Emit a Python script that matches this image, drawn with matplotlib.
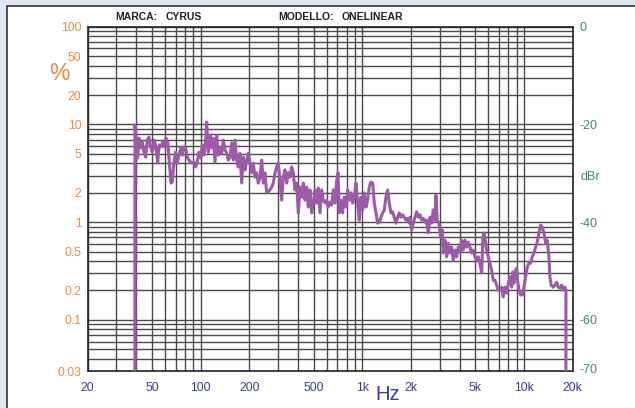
import numpy as np
import matplotlib
matplotlib.use("Agg")
import matplotlib.pyplot as plt
from matplotlib.patches import Rectangle
from matplotlib.ticker import FixedLocator, NullFormatter
from matplotlib.transforms import blended_transform_factory

plt.rcParams['font.family'] = ['Liberation Sans', 'DejaVu Sans']

# ---- data ----
freq_hz = [
    39.2, 39.2, 39.8, 40.7, 41.5, 42.5, 43.5, 44.6, 45.7, 46.7, 47.9, 49.0, 50.2, 51.6, 52.9, 54.2,
    55.4, 56.8, 58.2, 59.5, 61.0, 62.5, 63.9, 65.5, 66.7, 68.3, 70.0, 71.6, 73.4, 75.2, 76.9, 78.8,
    80.7, 82.6, 84.6, 86.7, 88.7, 90.8, 93.1, 95.2, 97.5, 100, 102.3, 104.8, 107.4, 108.9, 111.4,
    114.2, 117.0, 119.7, 122.6, 125.6, 128.5,
    131.6, 134.9, 138.0, 141.3, 144.8, 148.1, 151.8, 155.5, 159.1, 163.0, 167.0, 170.8, 175.0,
    179.3, 183.4, 187.9, 192.5, 197.0, 201.8, 206.7, 211.5, 216.7, 222.0, 227.1, 232.7, 238.4,
    243.9, 249.8, 255.9, 261.9, 268.3, 274.8, 281.2, 288.1, 295.1, 301.9, 309.3, 316.9, 324.2,
    332.2, 340.3, 348.1, 356.7, 365.4, 373.8, 382.9, 392.3, 401.4, 411.2, 421.3, 431.0, 441.6,
    452.4, 462.8, 474.2, 485.8, 497.0,
    509, 522, 534, 547, 560, 573, 587, 602, 615, 631, 646, 661, 677, 694, 707, 720, 737, 755,
    773, 792, 811, 830, 850, 871, 891, 913, 935, 957, 980, 1004, 1027, 1053, 1078, 1103, 1130,
    1158, 1185, 1214, 1243, 1272, 1303, 1335, 1366, 1399, 1434, 1467, 1503, 1539, 1575, 1614,
    1653, 1691, 1733, 1775, 1816, 1861, 1906, 1950,
    1970, 2018, 2064, 2115, 2167, 2217, 2271, 2327, 2380, 2439, 2498, 2556, 2619, 2683, 2744,
    2812, 2852, 2905, 2976, 3049, 3120, 3164, 3242, 3322, 3398, 3481, 3567, 3649, 3738, 3830,
    3918, 4014, 4112, 4207, 4310, 4416, 4517, 4628, 4742, 4851, 4970, 5091, 5209, 5336, 5467,
    5569, 5649, 5755, 5870, 6006, 6153, 6303, 6449, 6607, 6769, 6925,
    7095, 7269, 7436, 7619, 7805, 7985, 8181, 8381, 8502, 8661, 8873, 9000, 9129, 9300, 9527,
    9747, 9986, 10230, 10466, 10723, 10985, 11239, 11514, 11796, 12068, 12364, 12667, 12959,
    13276, 13601, 13914, 14256, 14460, 14730, 15156, 15527, 15907, 16274, 16673, 17081, 17475,
    17903, 18160, 18160,
]
thd_dbr = [
    -75.0, -20.1, -22.2, -26.9, -22.8, -24.8, -23.6, -25.7, -26.7, -23.2, -22.6, -24.6, -25.7,
    -23.2, -24.8, -27.7, -24.2, -24.6, -23.6, -24.6, -22.8, -23.6, -27.7, -32.0, -31.8, -27.7,
    -25.7, -27.9, -26.3, -24.8, -26.3, -24.6, -24.8, -26.7, -27.3, -27.7, -27.9, -27.7, -28.7,
    -27.7, -25.7, -26.9, -24.2, -26.3, -23.2, -19.5, -25.7, -22.2, -24.8, -22.8, -27.7, -22.2,
    -26.3,
    -24.6, -25.9, -23.2, -25.2, -25.9, -27.3, -26.7, -23.8, -27.3, -23.2, -27.3, -28.7, -25.9,
    -32.0, -26.7, -29.3, -27.3, -25.9, -27.9, -29.9, -27.9, -30.8, -29.9, -32.0, -30.8, -27.3,
    -32.0, -29.9, -34.0, -33.8, -33.4, -32.8, -32.0, -29.9, -28.7, -27.9, -31.4, -35.5, -30.8,
    -29.3, -32.0, -29.9, -30.8, -28.7, -29.9, -33.4, -32.0, -38.1, -32.8, -34.9, -32.0, -35.5,
    -32.8, -36.9, -33.4, -38.1, -36.1,
    -33.4, -36.1, -33.0, -38.1, -33.4, -35.5, -36.1, -35.5, -36.9, -35.9, -36.5, -33.4, -36.1,
    -31.4, -29.9, -38.1, -35.5, -38.1, -34.9, -36.9, -33.4, -35.5, -34.0, -36.1, -34.9, -32.0,
    -36.1, -39.6, -34.9, -37.5, -34.0, -36.9, -35.5, -32.8, -31.8, -32.0, -36.1, -38.1, -40.2,
    -40.0, -39.0, -38.1, -37.5, -34.9, -33.4, -36.1, -38.1, -37.9, -39.0, -40.2, -39.0, -38.1,
    -39.0, -38.5, -39.0, -39.6, -39.2, -40.2,
    -39.0, -41.6, -40.2, -39.0, -37.9, -39.0, -38.5, -39.6, -39.2, -40.0, -39.6, -42.2, -39.0,
    -40.2, -37.5, -39.6, -34.5, -39.6, -40.2, -43.1, -41.6, -46.3, -43.7, -47.1, -44.3, -46.3,
    -45.1, -47.8, -45.7, -47.1, -45.1, -46.1, -43.7, -45.7, -43.7, -45.1, -44.1, -45.1, -46.3,
    -45.7, -47.1, -47.8, -47.1, -48.4, -50.4, -43.1, -42.2, -43.7, -45.7, -47.1, -48.4, -49.8,
    -51.9, -51.9, -52.9, -53.9,
    -53.9, -53.3, -55.3, -53.3, -54.5, -52.5, -51.2, -53.3, -50.2, -52.5, -49.8, -49.4, -51.9,
    -53.9, -54.9, -54.9, -53.3, -51.2, -49.2, -48.4, -48.4, -47.1, -46.3, -45.1, -44.1, -42.2,
    -40.6, -41.0, -42.2, -44.3, -43.7, -47.1, -51.2, -52.9, -53.3, -52.9, -52.3, -53.3, -53.5,
    -52.9, -53.9, -53.3, -53.9, -75.0,
]
pct_ticks = [0.03, 0.1, 0.2, 0.5, 1, 2, 5, 10, 20, 50, 100]
pct_labels = ['0.03', '0.1', '0.2', '0.5', '1', '2', '5', '10', '20', '50', '100']
hz_ticks = [20, 50, 100, 200, 500, 1000, 2000, 5000, 10000, 20000]
hz_labels = ['20', '50', '100', '200', '500', '1k', '2k', '5k', '10k', '20k']
db_ticks = [0, -20, -40, -60, -70]
db_labels = ['0', '-20', '-40', '-60', '-70']

# ---- styling ----
W, H = 635, 408
ORANGE = '#f08a3a'
TEAL = '#3d8a78'
BLUE = '#3a3f9e'
PURPLE = '#9d5aa9'
GRID = '#4a4a4a'

fig = plt.figure(figsize=(W / 100, H / 100), dpi=100)
fig.patch.set_facecolor('#dce6f4')

bg = fig.add_axes([0, 0, 1, 1], zorder=-10)
bg.set_xlim(0, W)
bg.set_ylim(H, 0)
bg.axis('off')
bg.add_patch(Rectangle((7.3, 5.5), W + 20, H + 20, facecolor='white',
                       edgecolor='#333333', lw=1.2))

x0, x1, yt, yb = 87.7, 572.7, 26.7, 371.0
ax = fig.add_axes([x0 / W, (H - yb) / H, (x1 - x0) / W, (yb - yt) / H], zorder=1)
ax.set_facecolor('white')
ax.set_xscale('log')
ax.set_yscale('log')
ax.set_xlim(20, 20000)
ax.set_ylim(0.03, 100)

# grid lines
xg = [m * 10 ** e for e in range(1, 5) for m in range(1, 10) if 20 <= m * 10 ** e <= 20000]
yg = [m * 10.0 ** e for e in range(-2, 3) for m in range(1, 10) if 0.03 <= m * 10.0 ** e <= 100]
for v in xg:
    ax.axvline(v, color=GRID, lw=1.0, zorder=1)
for v in yg:
    ax.axhline(v, color=GRID, lw=1.0, zorder=1)

ax.plot(freq_hz, 100 * 10 ** (np.array(thd_dbr) / 20.0), color=PURPLE, lw=2.2,
        solid_joinstyle='round', zorder=3)

for s in ax.spines.values():
    s.set_color('#222222')
    s.set_linewidth(1.2)

ax.yaxis.set_major_locator(FixedLocator(pct_ticks))
ax.set_yticklabels(pct_labels)
ax.yaxis.set_minor_locator(FixedLocator([0.03, 0.1, 1, 10, 100]))
ax.yaxis.set_minor_formatter(NullFormatter())
ax.tick_params(axis='y', which='major', length=0, pad=4.5, labelsize=8.8, labelcolor=ORANGE)
ax.tick_params(axis='y', which='minor', length=4, width=1.2, color='#222222')

ax.xaxis.set_major_locator(FixedLocator(hz_ticks))
ax.set_xticklabels(hz_labels)
ax.xaxis.set_minor_locator(FixedLocator([]))
ax.tick_params(axis='x', which='major', length=0, pad=8, labelsize=8.8, labelcolor=BLUE)

ax2 = ax.twinx()
ax2.set_zorder(2)
ax2.set_ylim(20 * np.log10(0.03 / 100), 0)
ax2.set_yticks(db_ticks)
ax2.set_yticklabels(db_labels)
ax2.tick_params(axis='y', length=0, pad=5, labelsize=9, labelcolor=TEAL)
for s in ax2.spines.values():
    s.set_visible(False)
tr = blended_transform_factory(ax2.transAxes, ax2.transData)
ax2.text(1.016, -30.8, 'dBr', transform=tr, color=TEAL, fontsize=9, ha='left', va='center')

# texts
fig.text(59 / W, (H - 74) / H, '%', color=ORANGE, fontsize=16.5, ha='center', va='center')
fig.text(388 / W, (H - 395) / H, 'Hz', color=BLUE, fontsize=14.5, ha='center', va='center')
ty = (H - 16.7) / H
fig.text(115 / W, ty, 'MARCA:', fontsize=7.5, fontweight='bold', color='#222222', va='center')
fig.text(166 / W, ty, 'CYRUS', fontsize=7.5, fontweight='bold', color='#222222', va='center')
fig.text(278 / W, ty, 'MODELLO:', fontsize=7.5, fontweight='bold', color='#222222', va='center')
fig.text(341.7 / W, ty, 'ONELINEAR', fontsize=7.5, fontweight='bold', color='#222222', va='center')

fig.savefig('out.png', dpi=100, facecolor=fig.get_facecolor())
